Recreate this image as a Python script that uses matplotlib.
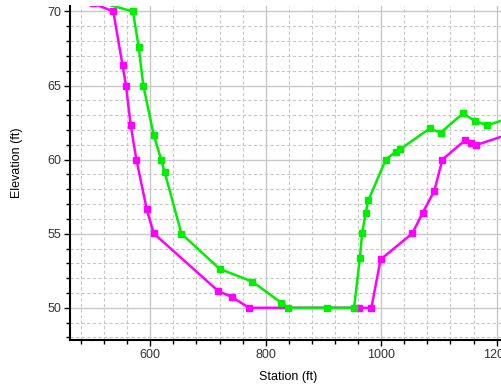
import matplotlib
matplotlib.use("Agg")
import matplotlib.pyplot as plt
from matplotlib.ticker import MultipleLocator

plt.rcParams['font.family'] = ['Liberation Sans', 'DejaVu Sans']

# Series 1 (green)
green_station = [500, 570, 580, 588, 606, 619, 625, 654, 720, 777, 827, 839, 907, 953,
                 963, 967, 973, 978, 1008, 1025, 1033, 1084, 1103, 1142, 1162, 1184, 1230]
green_elev = [70.75, 70.0, 67.6, 65.0, 61.66, 60.0, 59.16, 55.0, 52.63, 51.76, 50.34, 50.0, 50.0, 50.0,
              53.33, 55.02, 56.37, 57.27, 60.0, 60.53, 60.7, 62.1, 61.82, 63.13, 62.6, 62.32, 62.9]

# Series 2 (magenta)
mag_station = [500, 536, 552, 558, 566, 576, 594, 606, 718, 741, 771, 962, 983,
               999, 1054, 1072, 1092, 1106, 1146, 1155, 1165, 1240]
mag_elev = [70.55, 70.0, 66.37, 65.0, 62.36, 60.0, 56.64, 55.02, 51.12, 50.74, 50.0, 50.0, 50.0,
            53.26, 55.02, 56.42, 57.88, 60.0, 61.33, 61.1, 60.99, 61.95]

fig = plt.figure(figsize=(5.02, 3.85), dpi=100)
ax = fig.add_axes([70/502, 45.5/385, 1 - 70/502 + 0.01, (340-6)/385])

ax.set_xlim(461, 1218)
ax.set_ylim(47.86, 70.4)

ax.xaxis.set_major_locator(MultipleLocator(200))
ax.xaxis.set_minor_locator(MultipleLocator(40))
ax.yaxis.set_major_locator(MultipleLocator(5))
ax.yaxis.set_minor_locator(MultipleLocator(1))

ax.grid(which='major', color='#c8c8c8', linestyle='-', linewidth=1.0, zorder=0)
ax.grid(which='minor', color='#c8c8c8', linestyle=(0, (3, 2)), linewidth=0.8, zorder=0)
ax.set_axisbelow(True)

ax.plot(mag_station, mag_elev, color='#ff00ff', linewidth=1.8, marker='s', markersize=4.5,
        clip_on=True, zorder=3)
ax.plot(green_station, green_elev, color='#00ee00', linewidth=1.8, marker='s', markersize=4.5,
        clip_on=True, zorder=3)

for s in ['top', 'right']:
    ax.spines[s].set_visible(False)
ax.spines['left'].set_linewidth(1.5)
ax.spines['bottom'].set_linewidth(1.5)

ax.tick_params(which='major', direction='out', length=4, width=1, labelsize=9, colors='black', labelcolor='#333333')
ax.tick_params(which='minor', direction='out', length=3, width=1)
ax.tick_params(axis='x', pad=3)
ax.tick_params(axis='y', pad=2)

ax.set_xlabel('Station (ft)', fontsize=9, labelpad=7)
ax.set_ylabel('Elevation (ft)', fontsize=9, labelpad=18, y=0.53)

fig.savefig('out.png', dpi=100)
